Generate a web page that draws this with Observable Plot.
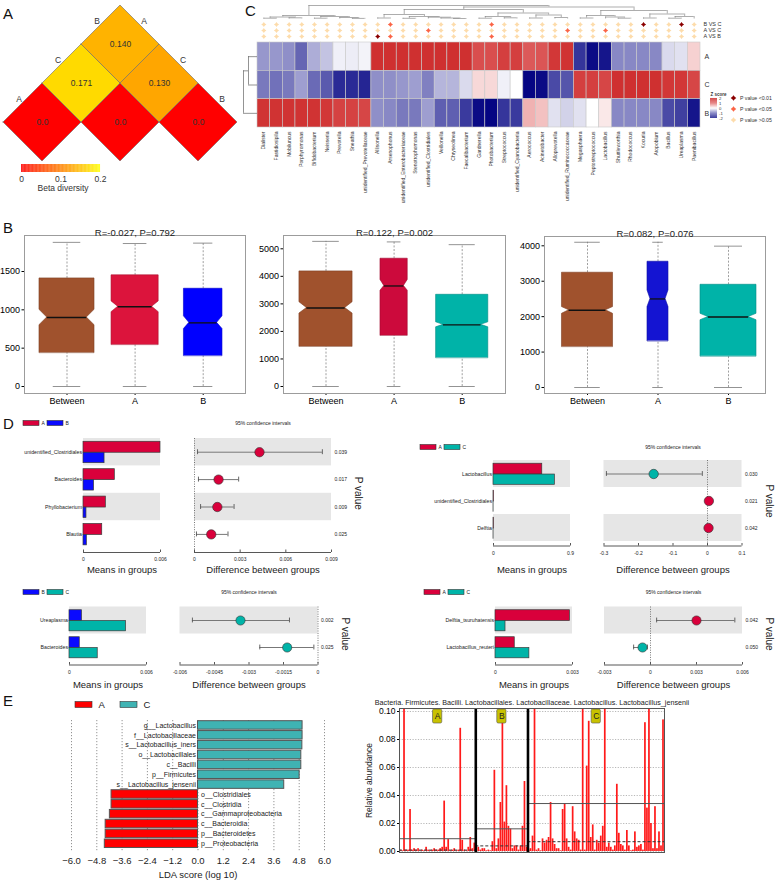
<!DOCTYPE html>
<html><head><meta charset="utf-8">
<script src="https://cdn.jsdelivr.net/npm/d3@7"></script>
<script src="https://cdn.jsdelivr.net/npm/@observablehq/plot@0.6"></script>
<style>
body{margin:0;background:#fff;}
#root{position:relative;width:777px;height:883px;overflow:hidden;background:#fff;font-family:"Liberation Sans",Arial,sans-serif;}
.letter{position:absolute;font-size:15px;line-height:1;color:#111;}
</style></head><body><div id="root"></div>
<script>
// ================= DATA =================
// Panel A – beta diversity (order of groups along the triangle edges)
const betaGroups = ["A", "C", "B"];
const betaRowIdx = [0, 1, 2, 0, 1, 0];
const betaColIdx = [0, 1, 2, 1, 2, 2];
const betaValues = [0.0, 0.0, 0.0, 0.171, 0.130, 0.140];
const betaTicks = [0, 0.1, 0.2];
const betaTickLabels = ["0", "0.1", "0.2"];

// Panel C – heatmap of z scores
const genera = ["Dialister","Fastidiosipila","Mobiluncus","Porphyromonas","Bifidobacterium","Neisseria","Prevotella","Sneathia","unidentified_Prevotellaceae","Allisonella","Arsenophonus","unidentified_Enterobacteriaceae","Stenotrophomonas","unidentified_Clostridiales","Veillonella","Chryseolinea","Faecalibacterium","Gardnerella","Photobacterium","Streptococcus","unidentified_Cyanobacteria","Aerococcus","Acinetobacter","Alloprevotella","unidentified_Ruminococcaceae","Megasphaera","Peptostreptococcus","Lactobacillus","Shuttleworthia","Rhodococcus","Kocuria","Atopobium","Bacillus","Ureaplasma","Paenibacillus"];
const heatRows = ["A", "C", "B"];
const zScoreA = [-0.7,-0.7,-0.75,-1.05,-0.55,-0.4,-0.1,-0.12,-0.08, 1.7,1.7,1.7,1.7,1.7,1.7,1.7,1.7, 1.3,1.3,1.5,1.5,1.15,1.2,1.6,1.65, -1.5,-1.9,-1.8,-0.8,-0.8,-0.8,-0.8,-0.25,-0.2,0.3];
const zScoreC = [-0.9,-0.95,-0.9,-0.65,-1.0,-1.15,-1.6,-1.6,-1.65, -0.75,-0.75,-0.7,-0.65,-0.85,-0.5,-0.5,-0.25, 0.25,0.25,-0.1,0.0,-1.95,-1.9,-1.3,-1.2, 1.5,1.5,1.4,1.7,1.7,1.7,1.7,1.6,1.6,1.4];
const zScoreB = [1.65,1.65,1.65,1.65,1.65,1.6,1.45,1.45,1.4, -0.75,-0.8,-0.9,-0.9,-0.65,-1.1,-1.1,-1.45, -1.9,-1.95,-1.5,-1.45,0.5,0.4,-0.2,-0.3, -0.2,0.0,0.15,-0.8,-0.8,-0.8,-0.8,-1.3,-1.4,-1.8];
const compLabels = ["B VS C", "A VS C", "A VS B"];
// 0: P>0.05, 1: P<0.05, 2: P<0.01
const pBC = [0,0,0,0,0,0,0,0,0,0,1,0,0,0,0,0,0,0,1,0,0,0,0,0,0,0,0,0,0,0,2,0,0,2,0];
const pAC = [0,0,0,0,0,0,0,0,0,0,0,0,0,1,0,0,0,0,0,0,0,0,0,0,1,0,0,1,0,0,0,0,0,0,0];
const pAB = [0,0,0,0,0,0,0,0,0,2,1,0,0,0,0,0,0,0,1,0,0,0,0,0,0,0,0,0,0,0,0,0,0,0,0];
const pLegendLabels = ["P value <0.01", "P value <0.05", "P value >0.05"];
const zLegendTicks = [2, 1, 0, -1, -2];
// dendrograms: [height, left, right], leaves = column / row index
const colTree = [13.5,
  [3.5, [2.0,[0.8,0,1],[1.2,2,3]], [2.5,[0.8,4,5],[1.5,6,[0.6,7,8]]]],
  [12, [9.5, [4.5,[1.0,9,10],[2.5,[0.7,11,12],[1.8,13,[1.0,14,[0.5,15,16]]]]],
             [6.0,[2.5,[0.8,17,18],[1.2,19,20]],[4.0,[1.0,21,22],[1.5,23,24]]]],
       [8.5, [3.5,[1.0,25,26],[2.0,27,[0.8,28,29]]], [5.0,[1.0,30,31],[2.5,[0.8,32,33],34]]]]];
const rowTree = [14, [9, 0, 1], 2];

// Panel B – notched box plots
const boxGroups = ["Between", "A", "B"];
const b1Title = "R=-0.027, P=0.792";
const b1Max = [1880,1865,1870], b1Q3 = [1410,1450,1275], b1NotchHi = [1000,1110,915], b1Median = [900,1040,830], b1NotchLo = [800,970,750], b1Q1 = [440,545,400], b1Min = [0,0,0];
const b2Title = "R=0.122, P=0.002";
const b2Max = [5270,5250,5150], b2Q3 = [4180,4640,3330], b2NotchHi = [3060,3870,2330], b2Median = [2850,3650,2240], b2NotchLo = [2650,3480,2150], b2Q1 = [1450,1850,1040], b2Min = [0,0,0];
const b3Title = "R=0.082, P=0.076";
const b3Max = [4100,4100,3990], b3Q3 = [3240,3550,2900], b3NotchHi = [2270,2740,2080], b3Median = [2180,2500,1990], b3NotchLo = [2080,2270,1900], b3Q1 = [1150,1310,880], b3Min = [0,0,0];
const b1Ticks = [0,500,1000,1500], b2Ticks = [0,1000,2000,3000,4000,5000], b3Ticks = [0,1000,2000,3000,4000];
const b1Width = [0.404,0.346,0.283], b2Width = [0.39,0.2,0.383], b3Width = [0.362,0.149,0.397];

// Panel D – STAMP extended error bars
const d1Taxa = ["unidentified_Clostridiales","Bacteroides","Phyllobacterium","Blautia"];
const d1MeanA = [0.0060,0.00244,0.00174,0.00146], d1MeanB = [0.00164,0.00082,0.00023,0.00026];
const d1Diff = [0.00427,0.00158,0.0015,0.0011], d1Low = [0.0002,0.00026,0.0004,0.00013], d1High = [0.0084,0.0029,0.0026,0.0022];
const d1P = ["0.039","0.017","0.009","0.025"];
const d2Taxa = ["Lactobacillus","unidentified_Clostridiales","Delftia"];
const d2MeanA = [0.570,0.0055,0.0045], d2MeanC = [0.717,0.0008,0.0005];
const d2Diff = [-0.156,0.004,0.003], d2Low = [-0.293,-0.004,-0.006], d2High = [-0.015,0.012,0.012];
const d2P = ["0.030","0.021","0.042"];
const d3Taxa = ["Ureaplasma","Bacteroides"];
const d3MeanB = [0.00097,0.0008], d3MeanC = [0.0044,0.0022];
const d3Diff = [-0.00337,-0.00134], d3Low = [-0.00546,-0.00253], d3High = [-0.00124,-0.00018];
const d3P = ["0.002","0.025"];
const d4Taxa = ["Delftia_tsuruhatensis","Lactobacillus_reuteri"];
const d4MeanA = [0.0029,0.00075], d4MeanC = [0.00039,0.00132];
const d4Diff = [0.0030,-0.00052], d4Low = [0.0004,-0.0011], d4High = [0.0055,-0.0002];
const d4P = ["0.042","0.050"];
const d1BarTicks = [0,0.006], d1BarLabels = ["0","0.006"], d1CiTicks = [0,0.003,0.006,0.009], d1CiLabels = ["0","0.003","0.006","0.009"];
const d2BarTicks = [0,0.9], d2BarLabels = ["0","0.9"], d2CiTicks = [-0.3,-0.2,-0.1,0,0.1], d2CiLabels = ["-0.3","-0.2","-0.1","0","0.1"];
const d3BarTicks = [0,0.006], d3BarLabels = ["0","0.006"], d3CiTicks = [-0.006,-0.0045,-0.003,-0.0015,0], d3CiLabels = ["-0.006","-0.0045","-0.003","-0.0015","0"];
const d4BarTicks = [0,0.003], d4BarLabels = ["0","0.003"], d4CiTicks = [-0.003,0,0.003,0.006], d4CiLabels = ["-0.003","0","0.003","0.006"];

// Panel E – LEfSe
const ldaTaxa = ["g__Lactobacillus","f__Lactobacillaceae","s__Lactobacillus_iners","o__Lactobacillales","c__Bacilli","p__Firmicutes","s__Lactobacillus_jensenii","o__Clostridiales","c__Clostridia","c__Gammaproteobacteria","c__Bacteroidia","p__Bacteroidetes","p__Proteobacteria"];
const ldaScore = [4.96,4.96,4.95,4.90,4.90,4.82,4.09,-4.10,-4.10,-4.18,-4.38,-4.38,-4.42];
const ldaGroup = ["C","C","C","C","C","C","C","A","A","A","A","A","A"];
const ldaTicks = [-6,-4.8,-3.6,-2.4,-1.2,0,1.2,2.4,3.6,4.8,6];
const relTitle = "Bacteria. Firmicutes. Bacilli. Lactobacillales. Lactobacillaceae. Lactobacillus. Lactobacillus_jensenii";
const relA = [0.001,0.0005,0.12,0.001,0.001,0.030,0.001,0.002,0.001,0.002, 0.0005,0.001,0.0005,0.003,0.001,0.0005,0.001,0.002,0.001,0.001, 0.002,0.003,0.036,0.003,0.0085,0.0005,0.001,0.002,0.0005,0.001, 0.088,0.008,0.001,0.0005,0.003,0.010,0.002,0.006];
const relB = [0.002,0.003,0.001,0.002,0.002,0.0005,0.001,0.0005,0.007,0.058, 0.002,0.009,0.035,0.11,0.021,0.047,0.018,0.016,0.002,0.004, 0.004,0.001,0.004,0.018,0.050,0.003];
const relC = [0.001,0.002,0.011,0.42,0.001,0.002,0.0005,0.009,0.006,0.008, 0.010,0.035,0.009,0.005,0.002,0.002,0.0005,0.030,0.034,0.009, 0.003,0.001,0.032,0.014,0.009,0.008,0.001,0.31,0.001,0.061, 0.093,0.010,0.019,0.001,0.008,0.006,0.011,0.018,0.38,0.003, 0.006,0.003,0.001,0.004,0.048,0.013,0.005,0.004,0.001,0.015, 0.004,0.0005,0.001,0.014,0.003,0.004,0.005,0.001,0.092,0.031, 0.32,0.020,0.002,0.032,0.002,0.014,0.004,0.094];
const relTicks = [0,0.02,0.04,0.06,0.08,0.10];

// ================= HELPERS =================
const FONT = '"Liberation Sans", Arial, sans-serif';
const root = document.getElementById("root");
function mount(svg){ svg.style.position = "absolute"; svg.style.left = "0px"; svg.style.top = "0px"; root.appendChild(svg); return svg; }
function P(opts, fs = 10){
  return Plot.plot(Object.assign({width: 777, height: 883, marginTop: 0, marginRight: 0, marginBottom: 0, marginLeft: 0}, opts,
    {style: `font-family:${FONT};background:transparent;overflow:visible;font-size:${fs}px;`}));
}
const star4 = {draw(ctx, size){ const r = Math.sqrt(size / Math.PI), k = r * 0.42;
  ctx.moveTo(0,-r); ctx.lineTo(k,-k); ctx.lineTo(r,0); ctx.lineTo(k,k); ctx.lineTo(0,r); ctx.lineTo(-k,k); ctx.lineTo(-r,0); ctx.lineTo(-k,-k); ctx.closePath(); }};
function treeSegments(tree){
  const across = [], stems = [];
  (function walk(n){
    if (typeof n === "number") return {pos: n + 0.5, h: 0};
    const [h, a, b] = n, A = walk(a), B = walk(b);
    across.push({p1: A.pos, p2: B.pos, h});
    stems.push({pos: A.pos, h1: A.h, h2: h}, {pos: B.pos, h1: B.h, h2: h});
    return {pos: (A.pos + B.pos) / 2, h};
  })(tree);
  return {across, stems};
}
function legend(labels, colors, x0, cy, o){
  const items = labels.map((l, k) => ({l, c: colors[k], x: k * o.step}));
  mount(P({x: {domain: [0, 100], range: [x0, x0 + 100], axis: null}, y: {domain: [0, 1], range: [cy - o.boxH / 2, cy + o.boxH / 2], axis: null}, color: {type: "identity"},
    marks: [
      Plot.rect(items, {x1: "x", x2: d => d.x + o.boxW, y1: 0, y2: 1, fill: "c", stroke: "#333", strokeWidth: 0.6}),
      Plot.text(items, {x: d => d.x + o.boxW + o.gapText, y: 0.5, text: "l", textAnchor: "start", fontSize: o.font, fill: "#222"})
    ]}));
}

// ================= PANEL LETTERS =================
[["A",3,6],["C",245,3],["B",3,220],["D",3,416],["E",3,693]].forEach(([t,x,y]) => {
  const d = document.createElement("div"); d.className = "letter"; d.textContent = t; d.style.left = x + "px"; d.style.top = y + "px"; root.appendChild(d);
});

// ================= PANEL A =================
const betaColor = {type: "linear", domain: [0, 0.2], range: ["#ff0000", "#ffff00"], interpolate: "rgb"};
const betaTable = betaValues.map((v, k) => ({v, pos: (betaRowIdx[k] + betaColIdx[k]) / 2, depth: betaColIdx[k] - betaRowIdx[k], label: v === 0 ? "0.0" : v.toFixed(3)}));
const diamondPts = betaTable.flatMap((c, k) => [
  {k, x: c.pos - 0.5, y1: c.depth, y2: c.depth, v: c.v},
  {k, x: c.pos, y1: c.depth - 1, y2: c.depth + 1, v: c.v},
  {k, x: c.pos + 0.5, y1: c.depth, y2: c.depth, v: c.v}]);
mount(P({
  x: {domain: [0, 2], range: [42, 198], axis: null},
  y: {domain: [0, 2], range: [122, 44], axis: null},
  color: betaColor,
  marks: [
    Plot.areaY(diamondPts, {x: "x", y1: "y1", y2: "y2", z: "k", fill: "v", stroke: "#6b6b6b", strokeWidth: 0.6}),
    Plot.text(betaTable, {x: "pos", y: "depth", text: "label", fontSize: 8.5, fill: "#333"}),
    Plot.text(betaGroups, {x: (d, j) => j / 2 - 0.25, y: (d, j) => j + 0.5, text: d => d, dx: -4, dy: -4, fontSize: 8.5, fill: "#333"}),
    Plot.text(betaGroups, {x: (d, i) => (i + 2) / 2 + 0.25, y: (d, i) => 2 - i + 0.5, text: d => d, dx: 4, dy: -4, fontSize: 8.5, fill: "#333"})
  ]}));
const rampSteps = d3.range(0, 0.2, 0.002);
mount(P({
  x: {domain: [0, 0.2], range: [21, 100], axis: null},
  y: {domain: [0, 1], range: [172, 164], axis: null},
  color: betaColor,
  marks: [
    Plot.rect(rampSteps, {x1: d => d, x2: d => d + 0.0021, y1: 0, y2: 1, fill: d => d + 0.001}),
    Plot.text(betaTicks, {x: d => d, y: -0.9, text: (d, i) => betaTickLabels[i], fontSize: 8.5, fill: "#333"}),
    Plot.text(["Beta diversity"], {x: 0.1, y: -2.0, dx: 2, text: d => d, fontSize: 8.5, fill: "#333"})
  ]}));

// ================= PANEL C =================
const heatColor = {type: "linear", domain: [-2, -1, 0, 1, 2], range: ["#000080", "#6a6ab6", "#ffffff", "#e06464", "#c81919"], interpolate: "rgb"};
const zByRow = [zScoreA, zScoreC, zScoreB];
const heatCells = heatRows.flatMap((r, ri) => genera.map((g, ci) => ({ri, ci, z: zByRow[ri][ci]})));
const hx = {domain: [0, genera.length], range: [257, 700], axis: null};
mount(P({x: hx, y: {domain: [0, 3], range: [42, 127], axis: null}, color: heatColor, marks: [
  Plot.rect(heatCells, {x1: "ci", x2: d => d.ci + 1, y1: "ri", y2: d => d.ri + 1, fill: "z", stroke: "#c9c9c9", strokeWidth: 0.6}),
  Plot.text(genera, {x: (d, i) => i + 0.5, y: 3, dy: 4, text: d => d, rotate: -90, textAnchor: "end", fontSize: 5, fill: "#333"}),
  Plot.text(heatRows, {x: genera.length, y: (d, i) => i + 0.5, dx: 4, text: d => d, textAnchor: "start", fontSize: 7, fill: "#333"})
]}));
const compCodes = [pBC, pAC, pAB];
const pColors = ["#fddcab", "#fb6446", "#8b0000"];
const pMarks = compLabels.flatMap((c, k) => compCodes[k].map((code, ci) => ({c, ci, code})));
mount(P({x: hx, y: {type: "band", domain: compLabels, range: [19.5, 39.5], padding: 0, axis: null}, marks: [
  ...pColors.map((col, code) => Plot.dot(pMarks.filter(d => d.code === code), {x: d => d.ci + 0.5, y: "c", r: 2.6, symbol: star4, fill: col})),
  Plot.text(compLabels, {x: genera.length, y: d => d, dx: 3, text: d => d, textAnchor: "start", fontSize: 5.5, fill: "#333"})
]}));
const colSegs = treeSegments(colTree);
mount(P({x: hx, y: {domain: [0, 14], range: [18.5, 4.5], axis: null}, marks: [
  Plot.ruleY(colSegs.across, {y: "h", x1: "p1", x2: "p2", stroke: "#8a8a8a", strokeWidth: 0.7}),
  Plot.ruleX(colSegs.stems, {x: "pos", y1: "h1", y2: "h2", stroke: "#8a8a8a", strokeWidth: 0.7})
]}));
const rowSegs = treeSegments(rowTree);
mount(P({x: {domain: [0, 14], range: [257, 243], axis: null}, y: {domain: [0, 3], range: [42, 127], axis: null}, marks: [
  Plot.ruleX(rowSegs.across, {x: "h", y1: "p1", y2: "p2", stroke: "#666", strokeWidth: 0.7}),
  Plot.ruleY(rowSegs.stems, {y: "pos", x1: "h1", x2: "h2", stroke: "#666", strokeWidth: 0.7})
]}));
const zLegendSteps = d3.range(-2, 2, 0.1);
mount(P({x: {domain: [0, 1], range: [710, 717], axis: null}, y: {domain: [-2, 2], range: [118, 98], axis: null}, color: heatColor, marks: [
  Plot.rect(zLegendSteps, {x1: 0, x2: 1, y1: d => d, y2: d => d + 0.105, fill: d => d + 0.05}),
  Plot.text(zLegendTicks, {x: 1, y: d => d, dx: 1.5, text: d => String(d), textAnchor: "start", fontSize: 4.2, fill: "#333"}),
  Plot.text(["Z score"], {x: 0, y: 2, dy: -3.5, text: d => d, textAnchor: "start", fontSize: 4.5, fontWeight: "bold", fill: "#333"})
]}));
const pLegendColors = [pColors[2], pColors[1], pColors[0]];
mount(P({x: {domain: [0, 1], range: [733, 738], axis: null}, y: {type: "band", domain: pLegendLabels, range: [91, 126], padding: 0, axis: null}, color: {type: "identity"}, marks: [
  Plot.dot(pLegendLabels, {x: 0, y: d => d, r: 2.8, symbol: star4, fill: (d, i) => pLegendColors[i]}),
  Plot.text(pLegendLabels, {x: 1, y: d => d, dx: 1.5, text: d => d, textAnchor: "start", fontSize: 5.2, fill: "#333"})
]}));

// ================= PANEL B =================
function boxplot(cfg){
  const rows = boxGroups.map((g, i) => ({i, max: cfg.max[i], q3: cfg.q3[i], nHi: cfg.nHi[i], med: cfg.med[i], nLo: cfg.nLo[i], q1: cfg.q1[i], min: cfg.min[i], w: cfg.w[i], color: cfg.colors[i]}));
  const pts = rows.flatMap(r => { const n = r.w * 0.72; return [
    {y: r.q1, x1: r.i - r.w, x2: r.i + r.w}, {y: r.nLo, x1: r.i - r.w, x2: r.i + r.w}, {y: r.med, x1: r.i - n, x2: r.i + n},
    {y: r.nHi, x1: r.i - r.w, x2: r.i + r.w}, {y: r.q3, x1: r.i - r.w, x2: r.i + r.w}].map(p => ({...p, i: r.i, color: r.color, edge: d3.color(r.color).darker(0.7).formatHex()})); });
  const [l, r, t, b] = cfg.frame;
  mount(P({marginLeft: l, marginRight: 777 - r, marginTop: t, marginBottom: 883 - b,
    x: {domain: [0, 2], range: cfg.xRange, ticks: [0, 1, 2], tickFormat: i => boxGroups[i], tickSize: 2, tickPadding: 2, label: null},
    y: {domain: cfg.yDomain, range: cfg.yRange, ticks: cfg.ticks, tickFormat: d => String(d), tickSize: 2.5, tickPadding: 2, label: null},
    color: {type: "identity"},
    marks: [
      Plot.frame({stroke: "#9c9c9c"}),
      Plot.ruleX(rows, {x: "i", y1: "q3", y2: "max", stroke: "#777", strokeWidth: 0.7, strokeDasharray: "2,1.6"}),
      Plot.ruleX(rows, {x: "i", y1: "min", y2: "q1", stroke: "#777", strokeWidth: 0.7, strokeDasharray: "2,1.6"}),
      Plot.ruleY(rows, {y: "max", x1: d => d.i - d.w / 2, x2: d => d.i + d.w / 2, stroke: "#777", strokeWidth: 0.8}),
      Plot.ruleY(rows, {y: "min", x1: d => d.i - d.w / 2, x2: d => d.i + d.w / 2, stroke: "#777", strokeWidth: 0.8}),
      Plot.areaX(pts, {y: "y", x1: "x1", x2: "x2", z: "i", fill: "color", stroke: "edge", strokeWidth: 0.6}),
      Plot.ruleY(rows, {y: "med", x1: d => d.i - d.w * 0.72, x2: d => d.i + d.w * 0.72, stroke: "#111", strokeWidth: 1.3}),
      Plot.text([cfg.title], {frameAnchor: "top", dy: -6, text: d => d, textAnchor: "middle", fontSize: 9.5, fill: "#222"})
    ]}, 9));
}
boxplot({title: b1Title, max: b1Max, q3: b1Q3, nHi: b1NotchHi, med: b1Median, nLo: b1NotchLo, q1: b1Q1, min: b1Min, w: b1Width,
  colors: ["#a0522d", "#dc143c", "#0000ff"], frame: [24, 245, 235, 393], xRange: [66.5, 202.7], yDomain: [0, 1500], yRange: [386, 271], ticks: b1Ticks});
boxplot({title: b2Title, max: b2Max, q3: b2Q3, nHi: b2NotchHi, med: b2Median, nLo: b2NotchLo, q1: b2Q1, min: b2Min, w: b2Width,
  colors: ["#a0522d", "#cc0a3c", "#00b3a8"], frame: [283, 505, 235, 393], xRange: [325.5, 461.7], yDomain: [0, 5000], yRange: [386, 248.3], ticks: b2Ticks});
boxplot({title: b3Title, max: b3Max, q3: b3Q3, nHi: b3NotchHi, med: b3Median, nLo: b3NotchLo, q1: b3Q1, min: b3Min, w: b3Width,
  colors: ["#a0522d", "#1414d2", "#00b3a8"], frame: [544, 765, 236, 393], xRange: [587, 728], yDomain: [0, 4000], yRange: [387, 245.3], ticks: b3Ticks});

// ================= PANEL D =================
const cA = "#d9003b", cB = "#0a0aff", cC = "#00b4a8";
function stamp(L, D){
  const n = D.taxa.length;
  const rows = D.taxa.map((t, i) => ({t, i, m1: D.m1[i], m2: D.m2[i], d: D.diff[i], lo: D.lo[i], hi: D.hi[i], p: D.p[i]}));
  const u = px => (px - L.top) / L.rowH;
  const y = {domain: [0, n], range: [L.top, L.top + n * L.rowH], axis: null};
  const ax = u(L.axisY), tk = u(L.tickY), tt = u(L.titleY), tl = 2.5 / L.rowH;
  const stripes = rows.filter(r => r.i % 2 === 0);
  const bd = D.barDom, cd = D.ciDom;
  mount(P({x: {domain: bd, range: L.barRange, axis: null}, y, marks: [
    Plot.rect(stripes, {x1: bd[0], x2: bd[1], y1: r => r.i, y2: r => r.i + 1, fill: "#e6e6e6"}),
    Plot.rect(rows, {x1: 0, x2: "m1", y1: r => r.i + 0.12, y2: r => r.i + 0.52, fill: D.c1, stroke: "#3a3a3a", strokeWidth: 0.7}),
    Plot.rect(rows, {x1: 0, x2: "m2", y1: r => r.i + 0.52, y2: r => r.i + 0.9, fill: D.c2, stroke: "#3a3a3a", strokeWidth: 0.7}),
    Plot.text(rows, {x: 0, y: r => r.i + 0.5, text: "t", textAnchor: "end", dx: -1.5, fontSize: 5.2, fill: "#222"}),
    Plot.ruleY([ax], {x1: bd[0], x2: bd[1], stroke: "#444", strokeWidth: 0.9}),
    Plot.ruleX(D.barTicks, {x: d => d, y1: ax - tl, y2: ax, stroke: "#444", strokeWidth: 0.9}),
    Plot.text(D.barTicks, {x: d => d, y: tk, text: (d, i) => D.barLabels[i], fontSize: 5, fill: "#222"}),
    Plot.text(["Means in groups"], {x: (bd[0] + bd[1]) / 2, y: tt, text: d => d, fontSize: 9.5, fill: "#222"})
  ]}));
  const mid = (cd[0] + cd[1]) / 2;
  mount(P({x: {domain: cd, range: L.ciRange, axis: null}, y, marks: [
    Plot.rect(stripes, {x1: cd[0], x2: cd[1], y1: r => r.i, y2: r => r.i + 1, fill: "#e6e6e6"}),
    Plot.ruleX([0], {y1: 0, y2: ax, stroke: "#555", strokeWidth: 0.8, strokeDasharray: "1,1.4"}),
    Plot.ruleY(rows, {y: r => r.i + 0.5, x1: "lo", x2: "hi", stroke: "#777", strokeWidth: 1}),
    Plot.ruleX(rows, {x: "lo", y1: r => r.i + 0.41, y2: r => r.i + 0.59, stroke: "#555", strokeWidth: 0.9}),
    Plot.ruleX(rows, {x: "hi", y1: r => r.i + 0.41, y2: r => r.i + 0.59, stroke: "#555", strokeWidth: 0.9}),
    Plot.dot(rows.filter(r => r.d >= 0), {x: "d", y: r => r.i + 0.5, r: L.dotR, fill: D.c1, stroke: "#333", strokeWidth: 0.6}),
    Plot.dot(rows.filter(r => r.d < 0), {x: "d", y: r => r.i + 0.5, r: L.dotR, fill: D.c2, stroke: "#333", strokeWidth: 0.6}),
    Plot.text(rows, {x: cd[1], y: r => r.i + 0.5, dx: 3, text: "p", textAnchor: "start", fontSize: 5, fill: "#222"}),
    Plot.text(["P value"], {x: cd[1], y: n / 2, dx: 27, rotate: 90, text: d => d, textAnchor: "middle", fontSize: 10, fill: "#222"}),
    Plot.ruleY([ax], {x1: cd[0], x2: cd[1], stroke: "#444", strokeWidth: 0.9}),
    Plot.ruleX(D.ciTicks, {x: d => d, y1: ax - tl, y2: ax, stroke: "#444", strokeWidth: 0.9}),
    Plot.text(D.ciTicks, {x: d => d, y: tk, text: (d, i) => D.ciLabels[i], fontSize: 5, fill: "#222"}),
    Plot.text(["Difference between groups"], {x: mid, y: tt, text: d => d, fontSize: 9.5, fill: "#222"}),
    Plot.text(["95% confidence intervals"], {x: mid, y: u(L.headY), text: d => d, fontSize: 5, fill: "#222"})
  ]}));
  legend([D.n1, D.n2], [D.c1, D.c2], L.legendX, L.headY, {boxW: 16, boxH: 5, font: 5, gapText: 2, step: 24});
}
stamp({top: 438, rowH: 27.4, barRange: [83, 160], ciRange: [194, 331], axisY: 552, tickY: 559, titleY: 569, headY: 423, legendX: 23, dotR: 4.7},
  {taxa: d1Taxa, m1: d1MeanA, m2: d1MeanB, diff: d1Diff, lo: d1Low, hi: d1High, p: d1P, c1: cA, c2: cB, n1: "A", n2: "B",
   barDom: [0, 0.006], ciDom: [0, 0.009], barTicks: d1BarTicks, barLabels: d1BarLabels, ciTicks: d1CiTicks, ciLabels: d1CiLabels});
stamp({top: 460, rowH: 27, barRange: [493, 570], ciRange: [603.5, 741.5], axisY: 545.5, tickY: 553, titleY: 569, headY: 447, legendX: 420, dotR: 4.7},
  {taxa: d2Taxa, m1: d2MeanA, m2: d2MeanC, diff: d2Diff, lo: d2Low, hi: d2High, p: d2P, c1: cA, c2: cC, n1: "A", n2: "C",
   barDom: [0, 0.9], ciDom: [-0.3, 0.1], barTicks: d2BarTicks, barLabels: d2BarLabels, ciTicks: d2CiTicks, ciLabels: d2CiLabels});
stamp({top: 606.5, rowH: 27, barRange: [69, 146], ciRange: [179.5, 317.5], axisY: 664.5, tickY: 672, titleY: 684, headY: 592, legendX: 23, dotR: 4.6},
  {taxa: d3Taxa, m1: d3MeanB, m2: d3MeanC, diff: d3Diff, lo: d3Low, hi: d3High, p: d3P, c1: cB, c2: cC, n1: "B", n2: "C",
   barDom: [0, 0.006], ciDom: [-0.006, 0], barTicks: d3BarTicks, barLabels: d3BarLabels, ciTicks: d3CiTicks, ciLabels: d3CiLabels});
stamp({top: 606.5, rowH: 27, barRange: [495, 572], ciRange: [604, 742], axisY: 664.5, tickY: 672, titleY: 684, headY: 592, legendX: 424, dotR: 4.6},
  {taxa: d4Taxa, m1: d4MeanA, m2: d4MeanC, diff: d4Diff, lo: d4Low, hi: d4High, p: d4P, c1: cA, c2: cC, n1: "A", n2: "C",
   barDom: [0, 0.003], ciDom: [-0.003, 0.006], barTicks: d4BarTicks, barLabels: d4BarLabels, ciTicks: d4CiTicks, ciLabels: d4CiLabels});

// ================= PANEL E =================
const eRed = "#ff0000", eTeal = "#3fb3b3";
const ldaRows = ldaTaxa.map((t, i) => ({t, i, s: ldaScore[i], g: ldaGroup[i]}));
mount(P({marginLeft: 71, marginRight: 777 - 324, marginTop: 720, marginBottom: 883 - 852,
  x: {domain: [-6, 6], axis: null}, y: {domain: [0, 13], range: [720, 848.2], axis: null}, color: {type: "identity"},
  marks: [
    Plot.ruleX(ldaTicks, {x: d => d, stroke: "#666", strokeWidth: 0.7, strokeDasharray: "1.2,1.8"}),
    Plot.rect(ldaRows, {x1: 0, x2: "s", y1: r => r.i + 0.07, y2: r => r.i + 0.93, fill: r => r.g === "A" ? eRed : eTeal, stroke: "#555", strokeWidth: 1}),
    Plot.text(ldaRows.filter(r => r.s > 0), {x: 0, y: r => r.i + 0.5, text: "t", textAnchor: "end", dx: -2, fontSize: 7, fill: "#222"}),
    Plot.text(ldaRows.filter(r => r.s < 0), {x: 0, y: r => r.i + 0.5, text: "t", textAnchor: "start", dx: 3, fontSize: 7, fill: "#222"}),
    Plot.text(ldaTicks, {x: d => d, frameAnchor: "bottom", dy: 11, text: d => d3.format(".1f")(d), textAnchor: "middle", fontSize: 9.5, fill: "#222"}),
    Plot.text(["LDA score (log 10)"], {x: 0, frameAnchor: "bottom", dy: 25, text: d => d, textAnchor: "middle", fontSize: 9.5, fill: "#222"})
  ]}));
legend(["A", "C"], [eRed, eTeal], 75, 704.5, {boxW: 17, boxH: 6, font: 9.5, gapText: 6, step: 45});

const relGroups = [{name: "A", vals: relA}, {name: "B", vals: relB}, {name: "C", vals: relC}];
let off = 0;
const gInfo = relGroups.map(g => { const s = off; off += g.vals.length; return {name: g.name, start: s, end: off, center: (s + off) / 2, mean: d3.mean(g.vals), median: d3.median(g.vals)}; });
const samples = relGroups.flatMap((g, k) => g.vals.map((v, j) => ({idx: gInfo[k].start + j, v})));
mount(P({marginLeft: 399, marginRight: 777 - 664, marginTop: 708, marginBottom: 883 - 852,
  x: {domain: [0, off], axis: null},
  y: {domain: [0, 0.1], range: [851, 711], ticks: relTicks, tickFormat: ".2f", tickSize: 2, tickPadding: 2, label: null},
  marks: [
    Plot.ruleY(relTicks, {stroke: "#999", strokeDasharray: "1.2,1.5", strokeWidth: 0.7}),
    Plot.rect(samples, {x1: "idx", x2: d => d.idx + 1, y1: 0, y2: "v", fill: "#ff1a1a", insetLeft: 0.15, insetRight: 0.15, clip: true}),
    Plot.ruleY(gInfo, {y: "mean", x1: "start", x2: "end", stroke: "#555", strokeWidth: 1}),
    Plot.ruleY(gInfo, {y: "median", x1: "start", x2: "end", stroke: "#333", strokeWidth: 1, strokeDasharray: "3,2"}),
    Plot.ruleX(gInfo.slice(1), {x: "start", stroke: "#000", strokeWidth: 2.6}),
    Plot.rect(gInfo, {x1: g => g.center - 2.3, x2: g => g.center + 2.3, y1: 0.0914, y2: 0.1014, fill: "#c8c200", stroke: "#555", strokeWidth: 0.6, rx: 1.5}),
    Plot.text(gInfo, {x: "center", y: 0.0964, text: "name", fontSize: 8.5, fill: "#222"}),
    Plot.frame({stroke: "#555"}),
    Plot.text([relTitle], {frameAnchor: "top", dy: -8.5, text: d => d, textAnchor: "middle", fontSize: 7.2, fill: "#222"}),
    Plot.text(["Relative abundance"], {frameAnchor: "left", dx: -30, rotate: -90, text: d => d, textAnchor: "middle", fontSize: 8.5, fill: "#222"})
  ]}, 8.5));
</script></body></html>
